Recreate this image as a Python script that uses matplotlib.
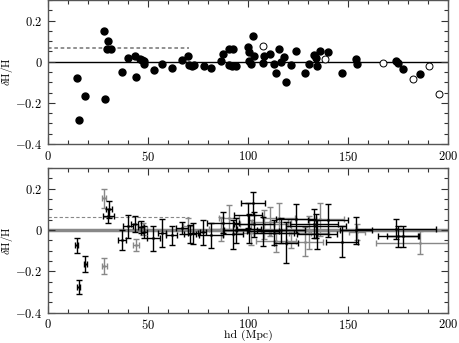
import matplotlib
matplotlib.use('Agg')
import matplotlib.pyplot as plt
from matplotlib.ticker import MultipleLocator, FuncFormatter

plt.rcParams['font.family'] = 'serif'
plt.rcParams['font.serif'] = ['cmr10', 'DejaVu Serif']
plt.rcParams['mathtext.fontset'] = 'cm'
plt.rcParams['axes.formatter.use_mathtext'] = True
plt.rcParams['axes.unicode_minus'] = False

# top panel: filled points
x_fill = [14.3, 15.3, 18.5, 28.0, 28.3, 30.2, 29.3, 31.3, 37.2, 39.8, 43.3, 44.0,
          46.2, 47.2, 48.0, 48.2, 52.8, 56.8, 61.8, 66.8, 69.8, 70.7, 72.0, 73.0,
          78.0, 81.7, 86.5, 87.5, 90.5, 92.3, 90.5, 92.2, 93.8, 99.8, 100.7, 100.5,
          101.3, 102.5, 103.2, 108.2, 107.7, 111.0, 113.0, 114.0, 115.5, 116.5,
          118.2, 118.8, 121.5, 124.2, 128.3, 130.5, 132.8, 134.0, 134.5, 135.8,
          139.8, 147.2, 154.2, 154.5, 174.0, 175.0, 177.7, 186.0]
y_fill = [-0.078, -0.281, -0.166, 0.149, -0.180, 0.100, 0.061, 0.061, -0.052, 0.019,
          0.029, -0.075, 0.012, 0.010, 0.004, -0.010, -0.042, -0.013, -0.028, 0.008,
          0.029, -0.018, -0.020, -0.017, -0.023, -0.029, 0.006, 0.036, 0.060, 0.060,
          -0.015, -0.020, -0.022, 0.071, 0.047, 0.006, -0.013, 0.125, 0.029, 0.029,
          -0.005, 0.040, -0.013, -0.054, 0.060, 0.001, 0.021, -0.099, -0.015, 0.054,
          -0.057, -0.013, 0.031, 0.020, -0.021, 0.052, 0.047, -0.057, 0.015, -0.010,
          0.005, -0.008, -0.034, -0.062]

# top panel: open points
x_open = [107.3, 138.7, 167.3, 182.7, 190.7, 195.5]
y_open = [0.075, 0.015, -0.008, -0.083, -0.023, -0.158]

# bottom panel: points with errors, grey flag
xb = [14.3, 15.3, 18.7, 28.2, 28.0, 30.3, 30.2, 37.2, 39.8, 43.3, 43.8, 46.5, 47.5,
      48.2, 52.7, 56.8, 61.8, 66.8, 69.8, 71.0, 72.5, 77.7, 81.7, 86.5, 87.5, 90.5,
      92.3, 93.8, 99.8, 102.5, 100.5, 101.3, 103.2, 108.2, 107.7, 111.0, 113.0,
      114.0, 115.5, 116.5, 118.8, 121.5, 124.2, 128.3, 130.5, 132.8, 134.0, 134.5,
      135.8, 139.8, 147.2, 154.2, 154.5, 174.0, 175.0, 177.7, 186.0]
yb = [-0.073, -0.274, -0.163, -0.174, 0.153, 0.100, 0.069, -0.048, 0.019, 0.030,
      -0.073, 0.015, 0.005, -0.010, -0.040, -0.013, -0.026, 0.009, 0.020, -0.018,
      -0.015, -0.010, -0.025, 0.005, 0.036, 0.060, -0.020, 0.000, 0.071, 0.129,
      0.006, -0.013, 0.029, 0.029, -0.005, 0.040, -0.013, -0.054, 0.060, 0.000,
      -0.060, -0.015, 0.054, -0.057, -0.013, 0.031, 0.020, -0.021, 0.052, 0.047,
      -0.057, 0.000, -0.010, 0.005, -0.030, -0.030, -0.060]
xeb = [0.8, 0.8, 0.8, 1.2, 1.2, 1.5, 2.7, 2.0, 2.5, 1.8, 1.5, 1.5, 2.0, 1.5, 3.3,
       2.0, 2.9, 3.0, 2.5, 3.0, 2.5, 1.5, 6.0, 6.0, 8.0, 5.0, 5.0, 6.0, 7.0, 5.8,
       6.0, 9.0, 10.0, 12.0, 8.0, 9.0, 10.0, 10.0, 8.0, 12.0, 6.0, 10.0, 10.0, 9.0,
       10.0, 12.0, 15.0, 10.0, 12.0, 10.0, 8.0, 8.0, 4.0, 20.0, 10.0, 8.0, 22.0]
yeb = [0.036, 0.034, 0.038, 0.040, 0.045, 0.040, 0.035, 0.048, 0.056, 0.040, 0.028,
       0.030, 0.030, 0.030, 0.060, 0.067, 0.044, 0.030, 0.040, 0.045, 0.050, 0.060,
       0.060, 0.060, 0.050, 0.060, 0.070, 0.060, 0.060, 0.055, 0.070, 0.060, 0.060,
       0.070, 0.070, 0.070, 0.060, 0.050, 0.070, 0.060, 0.100, 0.070, 0.070, 0.070,
       0.080, 0.070, 0.060, 0.070, 0.080, 0.080, 0.075, 0.065, 0.040, 0.050, 0.050,
       0.050, 0.055]
grey = [0, 0, 0, 1, 1, 0, 0, 0, 0, 0, 1, 0, 1, 0, 0, 0, 0, 0, 1, 0, 0, 0, 0, 1, 0,
        1, 0, 0, 0, 0, 0, 1, 0, 1, 0, 1, 0, 1, 1, 0, 0, 1, 0, 1, 1, 0, 0, 0, 1, 0,
        0, 0, 1, 0, 0, 0, 1]

dash_y = 0.065
dash_x = [0, 70.5]


def style(ax):
    ax.set_xlim(0, 200)
    ax.set_ylim(-0.4, 0.3)
    ax.xaxis.set_major_locator(MultipleLocator(50))
    ax.xaxis.set_minor_locator(MultipleLocator(10))
    ax.yaxis.set_major_locator(MultipleLocator(0.2))
    ax.yaxis.set_minor_locator(MultipleLocator(0.05))
    ax.yaxis.set_major_formatter(FuncFormatter(lambda v, p: '$0$' if abs(v) < 1e-9 else f'${v:.1f}$'))
    ax.xaxis.set_major_formatter(FuncFormatter(lambda v, p: f'${v:.0f}$'))
    ax.tick_params(which='both', direction='in', top=True, right=True, labelsize=9, width=0.8, color='#333333')
    ax.tick_params(which='major', length=5, pad=4)
    ax.tick_params(which='minor', length=3)
    for s in ax.spines.values():
        s.set_color('#555555')
        s.set_linewidth(1.0)
    ax.set_ylabel(r'$\delta\mathrm{H/H}$', fontsize=8)
    ax.yaxis.set_label_coords(-0.082, 0.5)


fig = plt.figure(figsize=(4.59, 3.43), dpi=100)
ax1 = fig.add_axes([0.1046, 0.580, 0.8715, 0.420])
ax2 = fig.add_axes([0.1046, 0.088, 0.8715, 0.422])

ax1.axhline(0, color='black', lw=1.0, zorder=1)
ax1.plot(dash_x, [dash_y, dash_y], color='#888888', lw=1.3, ls=(0, (2, 1.5)), zorder=1)
ax1.plot(x_fill, y_fill, 'o', color='black', ms=5, mec='black', zorder=3)
ax1.plot(x_open, y_open, 'o', mfc='white', mec='black', mew=0.7, ms=5, zorder=3)
style(ax1)

ax2.axhline(0, color='#888888', lw=2.5, zorder=1)
ax2.plot(dash_x, [dash_y, dash_y], color='#888888', lw=0.8, ls=(0, (3, 2)), zorder=1)
for i in range(len(xb)):
    c = '#888888' if grey[i] else 'black'
    ax2.errorbar(xb[i], yb[i], xerr=xeb[i], yerr=yeb[i], fmt='.', ms=2, color=c,
                 ecolor=c, elinewidth=1.0, capsize=2, capthick=1.0, zorder=2 + (1 - grey[i]))
style(ax2)
ax2.set_xlabel('hd (Mpc)', fontsize=8.5)
ax2.xaxis.set_label_coords(0.5, -0.12)

fig.savefig('out.png', dpi=100)
